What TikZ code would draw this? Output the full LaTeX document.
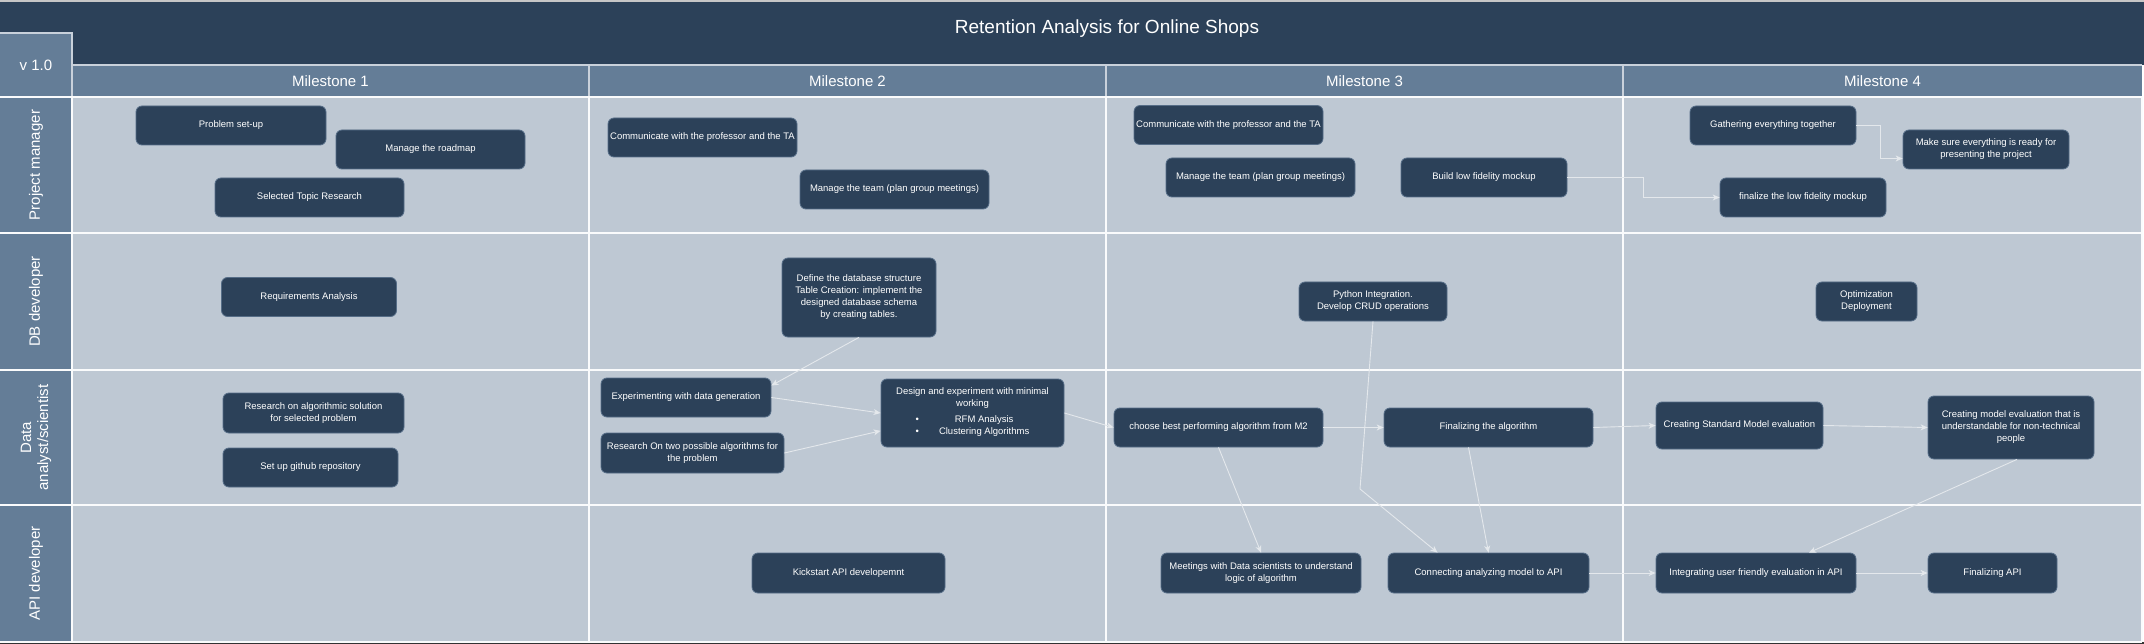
\documentclass[tikz,border=0pt]{standalone}
\usepackage{fontspec}
\setmainfont{Liberation Sans}
\usetikzlibrary{arrows.meta,calc}
\definecolor{navy}{HTML}{2C4159}
\definecolor{slate}{HTML}{647D97}
\definecolor{lanebg}{HTML}{BEC8D3}
\definecolor{taskline}{HTML}{566D87}
\definecolor{wire}{HTML}{E4E8EC}
\tikzset{
    task/.style={draw=taskline, line width=0.8pt, fill=navy, rounded corners=6pt, text=white,
        font=\fontsize{9.5}{12}\selectfont, align=center, inner sep=1pt, minimum height=39pt},
    flow/.style={draw=wire, line width=0.9pt, -{Stealth[length=7pt,width=6pt,inset=2pt]}},
    head/.style={text=white, font=\fontsize{15}{17}\selectfont, align=center},
    lanerule/.style={draw=white!93!lanebg, line width=2pt},
    headrule/.style={draw=slate!35!white, line width=1.2pt}
}
\begin{document}
\begin{tikzpicture}[x=1pt,y=-1pt]
    \useasboundingbox (0,0) rectangle (2144,644);
    \fill[gray!45] (0,0) rectangle (2144,2);
    \fill[black!80] (0,642) rectangle (2144,644);
    \fill[navy] (0,2) rectangle (2144,65);
    \fill[slate] (72,65) rectangle (2142,97);
    \fill[slate] (0,33) rectangle (72,642);
    \fill[lanebg] (72,97) rectangle (2142,642);

    \draw[headrule] (0,33) -- (72,33) -- (72,97);
    \draw[headrule] (72,65) -- (2142,65);
    \foreach \x in {589,1106,1623}
    {
        \draw[headrule] (\x,65) -- (\x,97);
    }
    \foreach \y in {97,233,370,505,642}
    {
        \draw[lanerule] (0,\y) -- (2142,\y);
    }
    \foreach \x in {72,589,1106,1623,2142}
    {
        \draw[lanerule] (\x,97) -- (\x,642);
    }

    \node[head, font=\fontsize{19}{22}\selectfont] (title) at (1107,29) {Retention Analysis for Online Shops};
    \node[head] (version) at (36,65) {v 1.0};
    \foreach \m [count=\i] in {330.5,847.5,1364.5,1882.5}
    {
        \node[head] (ms\i) at (\m,81) {Milestone \i};
    }
    \foreach \y/\t [count=\i] in {165/Project manager, 301.5/DB developer, 437.5/{Data\\analyst/scientist}, 573.5/API developer}
    {
        \node[head, rotate=90] (lane\i) at (36,\y) {\t};
    }

    \node[task, minimum width=190pt] (setup) at (231,125.5) {Problem set-up};
    \node[task, minimum width=189pt] (roadmap) at (430.5,149.5) {Manage the roadmap};
    \node[task, minimum width=189pt] (topic) at (309.5,197.5) {Selected Topic Research};
    \node[task, minimum width=189pt] (talkA) at (702.5,137.5) {Communicate with the professor and the TA};
    \node[task, minimum width=189pt] (teamA) at (894.5,189.5) {Manage the team (plan group meetings)};
    \node[task, minimum width=189pt] (talkB) at (1228.5,125) {Communicate with the professor and the TA};
    \node[task, minimum width=189pt] (teamB) at (1260.5,177.5) {Manage the team (plan group meetings)};
    \node[task, minimum width=166pt] (mockup) at (1484,177.5) {Build low fidelity mockup};
    \node[task, minimum width=166pt] (gather) at (1773,125.5) {Gathering everything together};
    \node[task, minimum width=166pt] (ready) at (1986,149.5) {Make sure everything is ready for\\presenting the project};
    \node[task, minimum width=166pt] (finmock) at (1803,197.5) {finalize the low fidelity mockup};

    \node[task, minimum width=175pt] (req) at (309,297) {Requirements Analysis};
    \node[task, minimum width=154pt, minimum height=79pt] (schema) at (859,297.5) {Define the database structure\\Table Creation: implement the\\designed database schema\\by creating tables.};
    \node[task, minimum width=148pt] (python) at (1373,301.5) {Python Integration.\\Develop CRUD operations};
    \node[task, minimum width=101pt] (deploy) at (1866.5,301.5) {Optimization\\Deployment};

    \node[task, minimum width=181pt, minimum height=40pt] (algo) at (313.5,413) {Research on algorithmic solution\\for selected problem};
    \node[task, minimum width=175pt] (repo) at (310.5,467.5) {Set up github repository};
    \node[task, minimum width=170pt] (datagen) at (686,397.5) {Experimenting with data generation};
    \node[task, minimum width=183pt, minimum height=40pt] (twoalgo) at (692.5,453) {Research On two possible algorithms for\\the problem};
    \node[task, minimum width=183pt, minimum height=68pt] (design) at (972.5,413) {Design and experiment with minimal\\working\\[5pt]\begin{tabular}{@{}c@{\hspace{20pt}}c@{}}\textbullet & RFM Analysis\\ \textbullet & Clustering Algorithms\end{tabular}};
    \node[task, minimum width=209pt] (choose) at (1218.5,427.5) {choose best performing algorithm from M2};
    \node[task, minimum width=209pt] (finalgo) at (1488.5,427.5) {Finalizing the algorithm};
    \node[task, minimum width=167pt, minimum height=47pt] (stdeval) at (1739.5,425.5) {Creating Standard Model evaluation};
    \node[task, minimum width=166pt, minimum height=63pt] (easyeval) at (2011,427.5) {Creating model evaluation that is\\understandable for non-technical\\people};

    \node[task, minimum width=193pt, minimum height=40pt] (kick) at (848.5,573) {Kickstart API developemnt};
    \node[task, minimum width=200pt, minimum height=40pt] (meet) at (1261,573) {Meetings with Data scientists to understand\\logic of algorithm};
    \node[task, minimum width=201pt, minimum height=40pt] (connect) at (1488.5,573) {Connecting analyzing model to API};
    \node[task, minimum width=200pt, minimum height=40pt] (integrate) at (1756,573) {Integrating user friendly evaluation in API};
    \node[task, minimum width=129pt, minimum height=40pt] (finapi) at (1992.5,573) {Finalizing API};

    \draw[flow] (gather.east) -- ++(24,0) |- ($(ready.west)+(0,9)$);
    \draw[flow] (mockup.east) -- ++(76,0) |- (finmock.west);
    \draw[flow] (schema.south) -- (datagen.8);
    \draw[flow] (datagen.east) -- (design.west);
    \draw[flow] (twoalgo.east) -- (design.191);
    \draw[flow] (design.east) -- (choose.west);
    \draw[flow] (choose.east) -- (finalgo.west);
    \draw[flow] (finalgo.east) -- (stdeval.west);
    \draw[flow] (stdeval.east) -- (easyeval.west);
    \draw[flow] (choose.south) -- (meet.north);
    \draw[flow] ($(finalgo.south)+(-20,0)$) -- (connect.north);
    \coordinate (pybend) at (1360,489);
    \draw[flow] (python.south) -- (pybend) -- ($(connect.north)+(-51,0)$);
    \draw[flow] (connect.east) -- (integrate.west);
    \draw[flow] ($(easyeval.south)+(6,0)$) -- ($(integrate.north)+(53,0)$);
    \draw[flow] (integrate.east) -- (finapi.west);
\end{tikzpicture}
\end{document}
